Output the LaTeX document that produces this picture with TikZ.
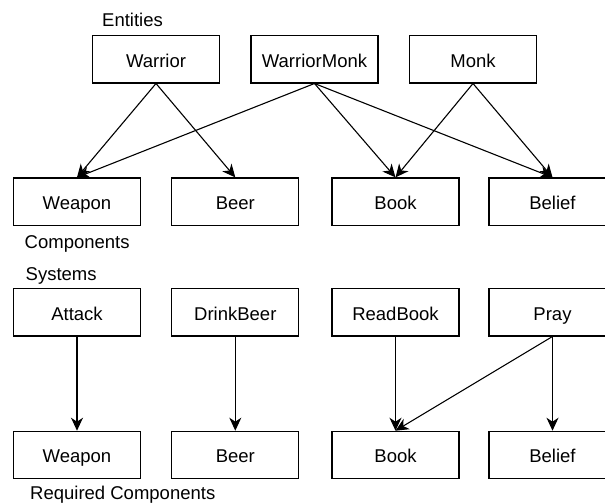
\documentclass[tikz,border=0pt]{standalone}
\usepackage{fontspec}
\setmainfont{Liberation Sans}
\usepackage{tikz}
\usetikzlibrary{arrows.meta,positioning}

\begin{document}
\begin{tikzpicture}[x=1pt, y=-1pt]
    % Define styles
    \tikzstyle{box} = [rectangle, draw=black, line width=1.1pt, fill=white, minimum width=127pt, minimum height=47.5pt, inner sep=0pt, text height=17pt, text depth=1.4pt, font=\fontsize{18.5}{22}\selectfont]
    \tikzstyle{caption} = [inner sep=0pt, anchor=west, text height=17pt, text depth=1.4pt, font=\fontsize{18.5}{22}\selectfont]
    \tikzstyle{link} = [-{Stealth[length=13pt, width=12pt, inset=4pt]}, line width=1.1pt]

    \useasboundingbox (0,0) rectangle (605,503);

    % Entities
    \node[caption] (entitieslabel) at (102,19.2) {Entities};
    \node[box] (warrior) at (156,59.2) {Warrior};
    \node[box] (warriormonk) at (314.5,59.2) {WarriorMonk};
    \node[box] (monk) at (473,59.2) {Monk};

    % Components
    \node[box] (weapon) at (77,201.7) {Weapon};
    \node[box] (beer) at (235.3,201.7) {Beer};
    \node[box] (book) at (395.5,201.7) {Book};
    \node[box] (belief) at (552.5,201.7) {Belief};
    \node[caption] (componentslabel) at (24.5,240.2) {Components};

    % Systems
    \node[caption] (systemslabel) at (25.5,272.2) {Systems};
    \node[box] (attack) at (77,312.2) {Attack};
    \node[box] (drinkbeer) at (235.3,312.2) {DrinkBeer};
    \node[box] (readbook) at (395.5,312.2) {ReadBook};
    \node[box] (pray) at (552.5,312.2) {Pray};

    % Required components
    \node[box] (reqweapon) at (77,455) {Weapon};
    \node[box] (reqbeer) at (235.3,455) {Beer};
    \node[box] (reqbook) at (395.5,455) {Book};
    \node[box] (reqbelief) at (552.5,455) {Belief};
    \node[caption] (requiredlabel) at (30,491.5) {Required Components};

    % Entity -> component
    \draw[link] (warrior.south) -- (weapon.north);
    \draw[link] (warrior.south) -- (beer.north);
    \draw[link] (warriormonk.south) -- (weapon.north);
    \draw[link] (warriormonk.south) -- (book.north);
    \draw[link] (warriormonk.south) -- (belief.north);
    \draw[link] (monk.south) -- (book.north);
    \draw[link] (monk.south) -- (belief.north);

    % System -> required component
    \draw[link] (attack.south) -- (reqweapon.north);
    \draw[link] (drinkbeer.south) -- (reqbeer.north);
    \draw[link] (readbook.south) -- (reqbook.north);
    \draw[link] (pray.south) -- (reqbook.north);
    \draw[link] (pray.south) -- (reqbelief.north);

\end{tikzpicture}
\end{document}
